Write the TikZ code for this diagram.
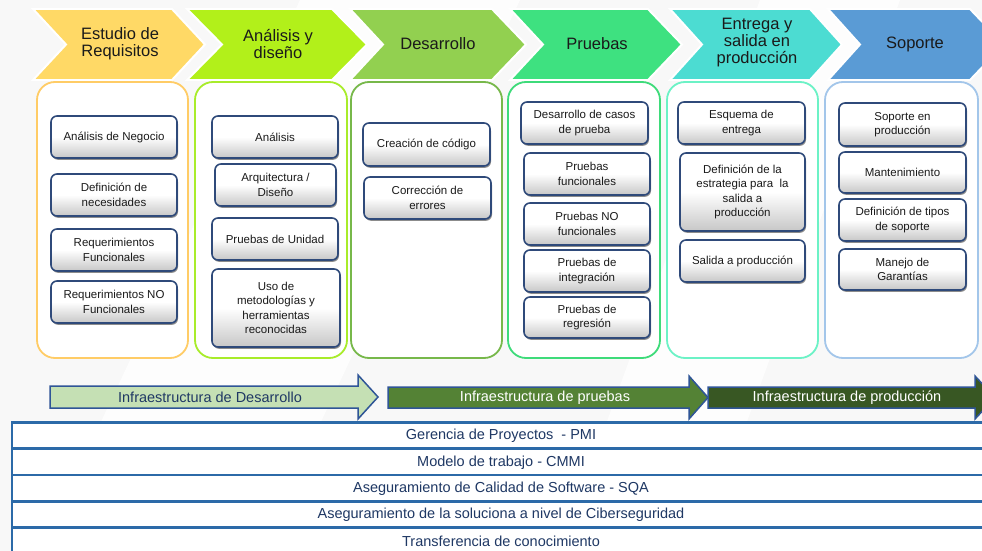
\documentclass[tikz,border=0pt]{standalone}
\usepackage{fontspec}
\setmainfont{Liberation Sans}
\usetikzlibrary{shadows}
\definecolor{chA}{HTML}{FFD966}
\definecolor{chB}{HTML}{B2F01A}
\definecolor{chC}{HTML}{92D050}
\definecolor{chD}{HTML}{3EE180}
\definecolor{chE}{HTML}{4CDCD2}
\definecolor{chF}{HTML}{5A9BD5}
\definecolor{cbA}{HTML}{FFCC66}
\definecolor{cbB}{HTML}{A8EC2A}
\definecolor{cbC}{HTML}{77B84A}
\definecolor{cbD}{HTML}{3EDB7A}
\definecolor{cbE}{HTML}{6CF2C6}
\definecolor{cbF}{HTML}{A3C6EA}
\definecolor{boxb}{HTML}{2F4A7A}
\definecolor{txt}{HTML}{1A1A1A}
\definecolor{navy}{HTML}{1F3864}
\definecolor{arrb}{HTML}{2F5597}
\definecolor{arrA}{HTML}{C5E0B4}
\definecolor{arrB}{HTML}{548235}
\definecolor{arrC}{HTML}{385723}
\definecolor{rowl}{HTML}{2C6AA8}
\definecolor{bgc}{HTML}{F8F8F8}
\newcommand\ibox[6]{\node[ibox,minimum width={#4-#2},minimum height={#5-#3}] (#1) at ({(#2+#4)/2},{(#3+#5)/2}) {#6};}
\newcommand\colbx[6]{\node[colbox,draw=#6,minimum width={#4-#2},minimum height={#5-#3}] (#1) at ({(#2+#4)/2},{(#3+#5)/2}) {};}
\begin{document}
\begin{tikzpicture}[x=1pt,y=-1pt,
  chev/.style={draw=white,line width=2pt,line join=miter},
  chevtxt/.style={align=center,text=txt,font=\fontsize{16.5}{17}\selectfont,inner sep=0pt},
  colbox/.style={rounded corners=18pt,line width=1.8pt,fill=white,inner sep=0pt},
  ibox/.style={rounded corners=6pt,draw=boxb,line width=1.6pt,top color=white,bottom color=black!22,middle color=white,
    drop shadow={shadow xshift=1pt,shadow yshift=-1.8pt,fill=black,opacity=0.45},
    align=center,text=txt,font=\fontsize{11.5}{14.5}\selectfont,inner sep=1pt},
  infra/.style={draw=arrb,line width=1.5pt,line join=miter},
  infratxt/.style={font=\fontsize{14.5}{16}\selectfont,inner sep=0pt},
  rowbox/.style={draw=rowl,line width=1.2pt,fill=white,text=navy,font=\fontsize{14.5}{16}\selectfont,minimum width=978pt,minimum height=26.3pt,inner sep=0pt},
  rowline/.style={draw=rowl,line width=2.6pt}]
\useasboundingbox (0,0) rectangle (982,551);
\fill[bgc] (0,0) rectangle (982,551);
\fill[white,opacity=0.8] (300,0) -- (520,0) -- (260,551) -- (40,551) -- cycle;
\fill[white,opacity=0.8] (760,0) -- (900,0) -- (700,551) -- (560,551) -- cycle;

% chevrons
\foreach \a/\b/\c/\d/\col in {
  33/66/172/205/chA,
  187/222/332/367/chB,
  350/383/492/526/chC,
  510/543/648/682/chD,
  670/702/810/842/chE,
  828/860/970/1004/chF}{
  \filldraw[chev,fill=\col] (\a,9) -- (\c,9) -- (\d,44.5) -- (\c,80) -- (\a,80) -- (\b,44.5) -- cycle;
}
\node[chevtxt] (hA) at (120,44) {Estudio de\\Requisitos};
\node[chevtxt] (hB) at (278,44) {Análisis y\\diseño};
\node[chevtxt] (hC) at (438,44) {Desarrollo};
\node[chevtxt] (hD) at (597,44) {Pruebas};
\node[chevtxt] (hE) at (757,43) {Entrega y\\salida en\\producción};
\node[chevtxt] (hF) at (915,44) {Soporte};

% columns
\colbx{kA}{37}{82}{188}{358}{cbA}
\colbx{kB}{195}{82}{347}{358}{cbB}
\colbx{kC}{351}{82}{502}{358}{cbC}
\colbx{kD}{508}{82}{660}{358}{cbD}
\colbx{kE}{667}{82}{818}{358}{cbE}
\colbx{kF}{825}{82}{978}{358}{cbF}

% column 1
\ibox{a1}{51}{116}{177}{158}{Análisis de Negocio}
\ibox{a2}{51}{174}{177}{216}{Definición de\\necesidades}
\ibox{a3}{51}{229}{177}{271}{Requerimientos\\Funcionales}
\ibox{a4}{51}{281}{177}{323}{Requerimientos NO\\Funcionales}
% column 2
\ibox{b1}{212}{116}{338}{158}{Análisis}
\ibox{b2}{215}{164}{336}{206}{Arquitectura /\\Diseño}
\ibox{b3}{212}{218}{338}{260}{Pruebas de Unidad}
\ibox{b4}{212}{269}{340}{347}{Uso de\\metodologías y\\herramientas\\reconocidas}
% column 3
\ibox{c1}{363}{123}{490}{166}{Creación de código}
\ibox{c2}{364}{177}{491}{219}{Corrección de\\errores}
% column 4
\ibox{d1}{521}{102}{648}{144}{Desarrollo de casos\\de prueba}
\ibox{d2}{524}{153}{650}{195}{Pruebas\\funcionales}
\ibox{d3}{524}{203}{650}{245}{Pruebas NO\\funcionales}
\ibox{d4}{524}{250}{650}{292}{Pruebas de\\integración}
\ibox{d5}{524}{297}{650}{338}{Pruebas de\\regresión}
% column 5
\ibox{e1}{678}{102}{805}{144}{Esquema de\\entrega}
\ibox{e2}{680}{153}{805}{231}{Definición de la\\estrategia para\ \ la\\salida a\\producción}
\ibox{e3}{680}{240}{805}{282}{Salida a producción}
% column 6
\ibox{f1}{839}{103}{966}{146}{Soporte en\\producción}
\ibox{f2}{839}{152}{966}{193}{Mantenimiento}
\ibox{f3}{839}{199}{966}{241}{Definición de tipos\\de soporte}
\ibox{f4}{839}{249}{966}{290}{Manejo de\\Garantías}

% infrastructure arrows
\filldraw[infra,fill=arrA] (50,386) -- (358,386) -- (358,375) -- (378,397) -- (358,419) -- (358,408) -- (50,408) -- cycle;
\filldraw[infra,fill=arrB] (388,387) -- (689,387) -- (689,376) -- (708,397.5) -- (689,419) -- (689,408) -- (388,408) -- cycle;
\filldraw[infra,fill=arrC] (708,387) -- (975,387) -- (975,376) -- (995,397.5) -- (975,419) -- (975,408) -- (708,408) -- cycle;
\node[infratxt,text=navy] (iA) at (210,397) {Infraestructura de Desarrollo};
\node[infratxt,text=white] (iB) at (545,397.5) {Infraestructura de pruebas};
\node[infratxt,text=white] (iC) at (847,397.5) {Infraestructura de producción};

% bottom rows
\node[rowbox] (r1) at (501,436.15) {Gerencia de Proyectos\ \ - PMI};
\node[rowbox] (r2) at (501,462.45) {Modelo de trabajo - CMMI};
\node[rowbox] (r3) at (501,488.75) {Aseguramiento de Calidad de Software - SQA};
\node[rowbox] (r4) at (501,515.05) {Aseguramiento de la soluciona a nivel de Ciberseguridad};
\node[rowbox] (r5) at (501,541.35) {Transferencia de conocimiento};
\foreach \r in {r1,r2,r3,r4,r5}{
  \draw[rowline] (\r.north west) -- (\r.north east);
}
\end{tikzpicture}
\end{document}
